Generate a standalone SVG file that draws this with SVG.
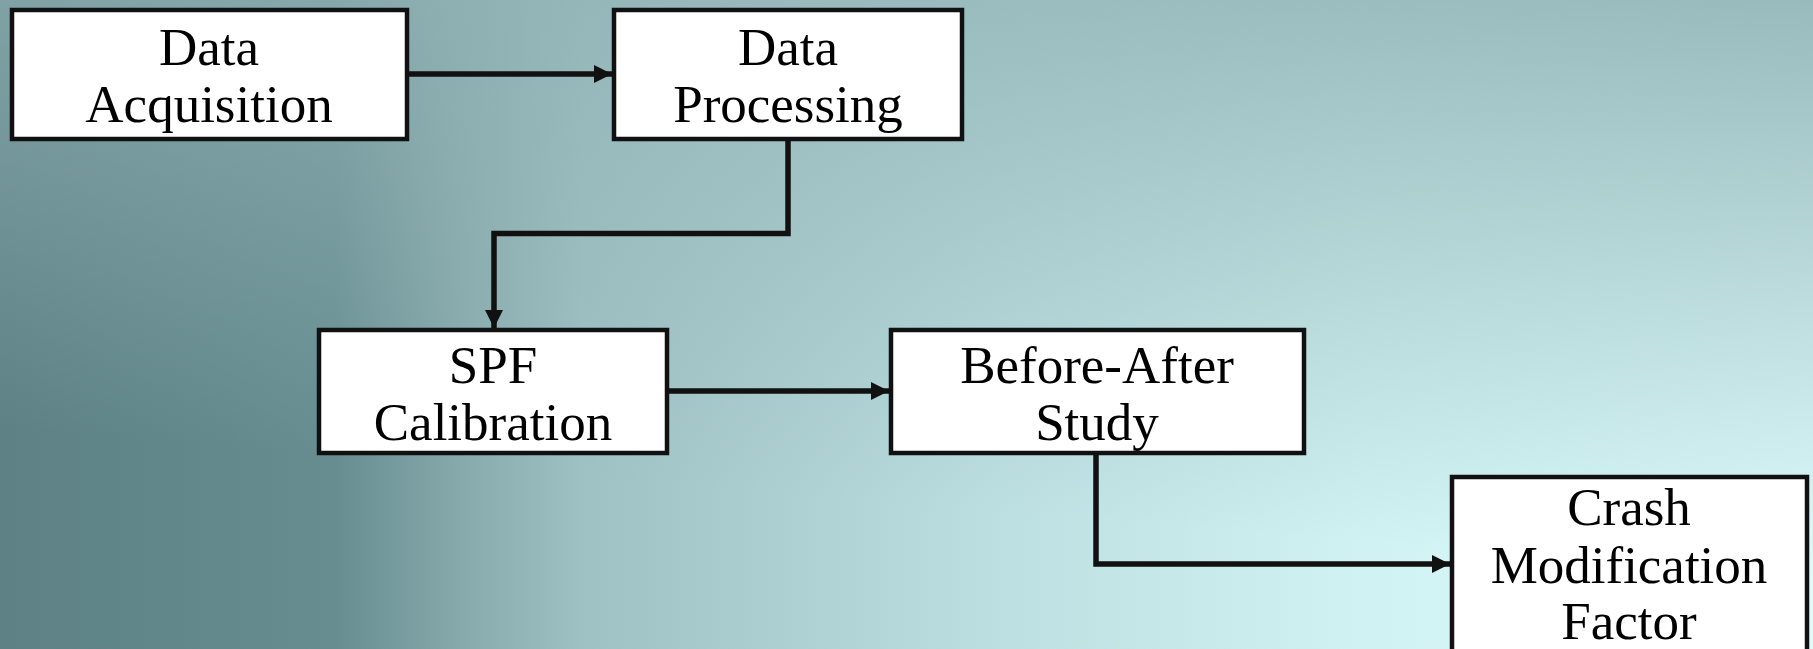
<svg xmlns="http://www.w3.org/2000/svg" width="1813" height="649" viewBox="0 0 1813 649">
<defs>
<linearGradient id="bg" x1="0" y1="0" x2="1" y2="0">
<stop offset="0" stop-color="#5d8185"/>
<stop offset="0.185" stop-color="#678d90"/>
<stop offset="0.25" stop-color="#85a8aa"/>
<stop offset="0.32" stop-color="#9ec1c3"/>
<stop offset="0.55" stop-color="#bcdfe1"/>
<stop offset="0.75" stop-color="#d1f2f2"/>
<stop offset="1" stop-color="#ddfdfd"/>
</linearGradient>
<linearGradient id="ov" x1="1" y1="0" x2="0.8" y2="0.85">
<stop offset="0" stop-color="#92b3b6" stop-opacity="0.9"/>
<stop offset="1" stop-color="#92b3b6" stop-opacity="0"/>
</linearGradient>
<marker id="ah" viewBox="0 0 10 10" refX="10" refY="5" markerWidth="18" markerHeight="18" markerUnits="userSpaceOnUse" orient="auto" preserveAspectRatio="none">
<path d="M0,0 L10,5 L0,10 z" fill="#111"/>
</marker>
<style>
.box{fill:#fff;stroke:#111;stroke-width:4.5}
.t{font-family:"Liberation Serif","DejaVu Serif","Times New Roman",serif;font-size:53px;fill:#000;text-anchor:middle}
.c{fill:none;stroke:#111;stroke-width:5.5;marker-end:url(#ah)}
</style>
</defs>
<rect width="1813" height="649" fill="url(#bg)"/>
<rect width="1813" height="649" fill="url(#ov)"/>
<g id="connectors">
<path class="c" d="M407,74 L612,74"/>
<path class="c" d="M788,139 L788,233.5 L494,233.5 L494,328"/>
<path class="c" d="M667,391 L889,391"/>
<path class="c" d="M1096,453 L1096,564 L1450,564"/>
</g>
<g id="data-acquisition">
<rect class="box" x="12" y="10" width="395" height="129"/>
<text class="t" x="209" y="65">Data</text>
<text class="t" x="209" y="122">Acquisition</text>
</g>
<g id="data-processing">
<rect class="box" x="614" y="10" width="348" height="129"/>
<text class="t" x="788" y="65">Data</text>
<text class="t" x="788" y="122">Processing</text>
</g>
<g id="spf-calibration">
<rect class="box" x="319" y="330" width="348" height="123"/>
<text class="t" x="493" y="383">SPF</text>
<text class="t" x="493" y="440">Calibration</text>
</g>
<g id="before-after-study">
<rect class="box" x="891" y="330" width="413" height="123"/>
<text class="t" x="1097" y="383">Before-After</text>
<text class="t" x="1097" y="440">Study</text>
</g>
<g id="crash-modification-factor">
<rect class="box" x="1452" y="477" width="355" height="180"/>
<text class="t" x="1629" y="525">Crash</text>
<text class="t" x="1629" y="583">Modification</text>
<text class="t" x="1629" y="639">Factor</text>
</g>
</svg>
